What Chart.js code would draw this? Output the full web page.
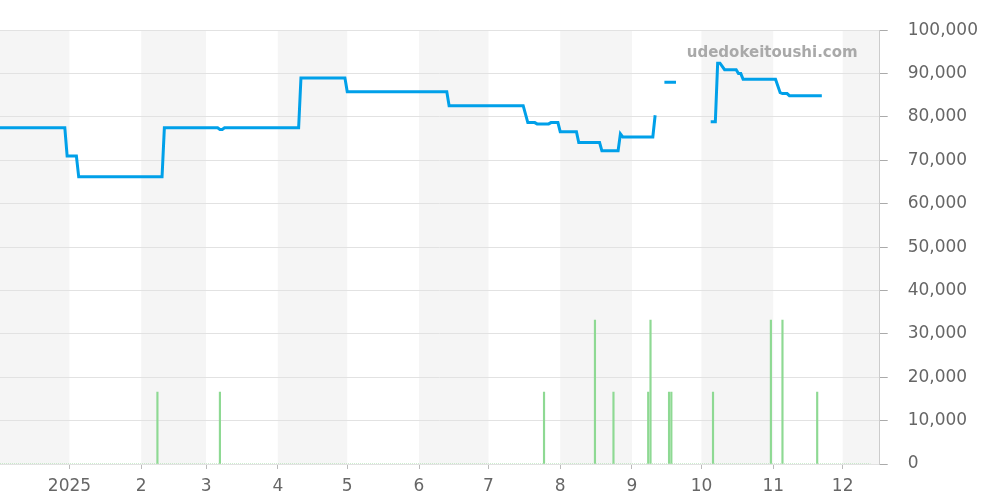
<!DOCTYPE html>
<html>
<head>
<meta charset="utf-8">
<script src="https://cdn.jsdelivr.net/npm/chart.js@4"></script>
<style>
  body { margin: 0; background: #fff; }
  #wrap { width: 1000px; height: 500px; }
</style>
</head>
<body>
<div id="wrap"><canvas id="priceChart"></canvas></div>
<script>
// x values are days counted from 2025-01-01
const monthStarts = [0, 31, 59, 90, 120, 151, 181, 212, 243, 273, 304, 334];
const monthLabels = ['2025', '2', '3', '4', '5', '6', '7', '8', '9', '10', '11', '12'];

// price line (null = no data)
const priceDays = [-30, -2, -1, 3, 4, 40, 41, 64, 65, 66, 67, 99, 100, 119, 120, 163, 164,
    196, 198, 201, 202, 207, 208, 211, 212, 219, 220, 229, 230, 237, 238, 239, 252, 253, 255,
    257, 262, 270,
    277, 279, 280, 281, 283, 288, 289, 290, 291, 305, 307, 308, 310, 311, 325];
const priceValues = [77500, 77500, 71000, 71000, 66200, 66200, 77500, 77500, 77100, 77100, 77500, 77500, 89000, 89000, 85800, 85800, 82600,
    82600, 78700, 78700, 78400, 78400, 78700, 78700, 76600, 76600, 74100, 74100, 72200, 72200, 76100, 75400, 75400, 80400, null,
    88000, 88000, null,
    78900, 78900, 92400, 92400, 90900, 90900, 90000, 90000, 88700, 88700, 85600, 85400, 85400, 84900, 84900];

// volume bars
const volumeDays = [38, 65, 205, 227, 235, 250, 251, 259, 260, 278, 303, 308, 323];
const volumeValues = [16600, 16600, 16600, 33200, 16600, 16600, 33200, 16600, 16600, 16600, 33200, 33200, 16600];
const volumeBaseDays = [-30, 346];

const yTicks = [0, 10000, 20000, 30000, 40000, 50000, 60000, 70000, 80000, 90000, 100000];

document.addEventListener('DOMContentLoaded', function () {
    const pricePoints = priceDays.map((d, i) => ({ x: d, y: priceValues[i] }));
    const volumePoints = volumeDays.map((d, i) => ({ x: d, y: volumeValues[i] }));
    const basePoints = volumeBaseDays.map(d => ({ x: d, y: 0 }));

    // alternating month shading + watermark
    const background = {
        id: 'background',
        beforeDraw(chart) {
            const { ctx, chartArea: a, scales: { x } } = chart;
            const edges = [-31].concat(monthStarts, [365]);
            ctx.save();
            ctx.fillStyle = '#f5f5f5';
            for (let i = 0; i < edges.length - 1; i += 2) {
                const l = Math.max(x.getPixelForValue(edges[i]), a.left);
                const r = Math.min(x.getPixelForValue(edges[i + 1]), a.right);
                if (r > l) ctx.fillRect(l, a.top, r - l, a.bottom - a.top);
            }
            ctx.restore();
        },
        beforeDatasetsDraw(chart) {
            const { ctx, chartArea: a } = chart;
            ctx.save();
            ctx.font = 'bold 15px "DejaVu Sans"';
            ctx.fillStyle = '#a9a9a9';
            ctx.textAlign = 'right';
            ctx.textBaseline = 'middle';
            ctx.fillText('udedokeitoushi.com', a.right - 22, a.top + 23);
            ctx.restore();
        }
    };

    new Chart(document.getElementById('priceChart'), {
        data: {
            datasets: [
                {
                    type: 'line',
                    data: pricePoints,
                    borderColor: '#00a0e9',
                    borderWidth: 3,
                    pointRadius: 0,
                    tension: 0,
                    spanGaps: false,
                    order: 0
                },
                {
                    type: 'bar',
                    data: volumePoints,
                    backgroundColor: '#8ed993',
                    barThickness: 1.5,
                    order: 1
                },
                {
                    type: 'line',
                    data: basePoints,
                    borderColor: '#9bdc9f',
                    borderWidth: 1,
                    borderDash: [1, 1],
                    pointRadius: 0,
                    order: 2
                }
            ]
        },
        options: {
            responsive: true,
            maintainAspectRatio: false,
            animation: false,
            layout: { padding: { top: 30, right: 2, bottom: 0, left: 0 } },
            scales: {
                x: {
                    type: 'linear',
                    min: -30,
                    max: 350,
                    offset: false,
                    afterBuildTicks: axis => { axis.ticks = monthStarts.map(v => ({ value: v })); },
                    afterFit: axis => { axis.height = 36; },
                    ticks: {
                        autoSkip: false,
                        maxRotation: 0,
                        padding: 7,
                        color: '#666',
                        font: { family: 'DejaVu Sans', size: 17 },
                        callback: (v, i) => monthLabels[i]
                    },
                    grid: { offset: false, drawOnChartArea: false, tickLength: 5, color: '#bbb' },
                    border: { display: false }
                },
                y: {
                    position: 'right',
                    min: 0,
                    max: 100000,
                    afterBuildTicks: axis => { axis.ticks = yTicks.map(v => ({ value: v })); },
                    ticks: {
                        padding: 20,
                        color: '#666',
                        font: { family: 'DejaVu Sans', size: 17 },
                        callback: v => v.toLocaleString('en-US')
                    },
                    grid: { color: '#e2e2e2', tickLength: 8, tickColor: '#aaa' },
                    border: { color: '#ccc' }
                }
            },
            plugins: {
                legend: { display: false },
                tooltip: { enabled: false }
            }
        },
        plugins: [background]
    });
});
</script>
</body>
</html>
